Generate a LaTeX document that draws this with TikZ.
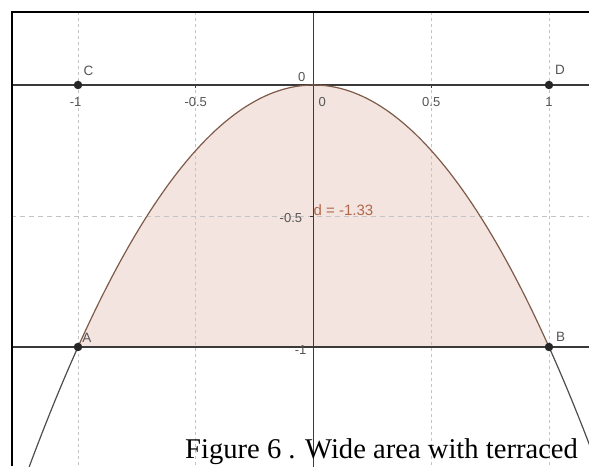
\documentclass[tikz,border=0pt]{standalone}
\usepackage{fontspec}
\setmainfont{Liberation Serif}
\newfontfamily\gsans{Liberation Sans}
\definecolor{axisgray}{HTML}{3A3A3A}
\definecolor{gridgray}{HTML}{C4C4C4}
\definecolor{fillpink}{HTML}{F4E4E0}
\definecolor{curvebrown}{HTML}{7E5A48}
\definecolor{labgray}{HTML}{555555}
\definecolor{dlab}{HTML}{B0684A}
\tikzset{
  gridline/.style={gridgray, line width=0.9pt, dash pattern=on 3pt off 3pt},
  axisline/.style={axisgray, line width=1.2pt},
  ticklab/.style={font=\gsans\fontsize{13}{14}\selectfont, text=labgray, inner sep=0pt},
  ptlab/.style={font=\gsans\fontsize{13.5}{14}\selectfont, text=labgray, inner sep=0pt},
  ptdot/.style={circle, fill=black!85, inner sep=0pt, minimum size=8.5pt},
  framebox/.style={black, line width=2pt},
}
\begin{document}
\begin{tikzpicture}
\useasboundingbox (0,0) rectangle (589pt,466pt);
\fill[white] (0,0) rectangle (589pt,466pt);
\begin{scope}
\clip (12pt,0) rectangle (589pt,454pt);
\begin{scope}[shift={(313.5pt,381pt)}, x=235.5pt, y=262pt]
  % shaded region
  \fill[fillpink] (-1,-1) -- plot[domain=-1:1, samples=80] (\x,{-\x*\x}) -- (1,-1) -- cycle;
  % grid
  \foreach \gx in {-1,-0.5,0.5,1} \draw[gridline] (\gx,0.3) -- (\gx,-1.5);
  \draw[gridline, dash pattern=on 5pt off 4pt] (-1.4,-0.5) -- (1.2,-0.5);
  % axes and line AB
  \draw[axisline] (-1.4,0) -- (1.2,0);
  \draw[axisline] (-1.4,-1) -- (1.2,-1);
  \draw[axisline, line width=1pt] (0,0.3) -- (0,-1.5);
  % ticks
  \foreach \gx in {-1,-0.5,0.5,1} \draw[axisline, line width=0.8pt] (\gx,0) -- (\gx,-0.012);
  \draw[axisline, line width=0.8pt] (0,-0.5) -- (-0.017,-0.5);
  \draw[axisline, line width=0.8pt] (0,-1) -- (-0.017,-1);
  % parabola
  \draw[axisgray!90, line width=1.2pt] plot[domain=-1.25:-1, samples=20] (\x,{-\x*\x});
  \draw[axisgray!90, line width=1.2pt] plot[domain=1:1.25, samples=20] (\x,{-\x*\x});
  \draw[curvebrown, line width=1.2pt] plot[domain=-1:1, samples=100] (\x,{-\x*\x});
  % points
  \node[ptdot] (C) at (-1,0) {};
  \node[ptdot] (D) at (1,0) {};
  \node[ptdot] (A) at (-1,-1) {};
  \node[ptdot] (B) at (1,-1) {};
  \node[ptlab] (Clab) at (-0.955,0.055) {C};
  \node[ptlab] (Dlab) at (1.047,0.058) {D};
  \node[ptlab] (Alab) at (-0.962,0.036-1) {A};
  \node[ptlab] (Blab) at (1.049,0.038-1) {B};
  % tick labels
  \node[ticklab] (xm1) at (-1.01,-0.066) {-1};
  \node[ticklab] (xm05) at (-0.5,-0.066) {-0.5};
  \node[ticklab] (x0) at (0.037,-0.066) {0};
  \node[ticklab] (x05) at (0.5,-0.066) {0.5};
  \node[ticklab] (x1) at (1,-0.066) {1};
  \node[ticklab] (y0) at (-0.05,0.032) {0};
  \node[ticklab] (ym05) at (-0.096,-0.508) {-0.5};
  \node[ticklab] (ym1) at (-0.055,-1.01) {-1};
  \node[ticklab, text=dlab, anchor=west, font=\gsans\fontsize{15}{16}\selectfont] (dlabel) at (0.0,-0.479) {d = -1.33};
\end{scope}
\end{scope}
% frame
\draw[framebox] (12pt,0) -- (12pt,454pt) -- (589pt,454pt);
% caption
\node[anchor=base west, inner sep=0pt, font=\fontsize{28.6}{32}\selectfont] (cap) at (185pt,8pt) {Figure 6 . Wide area with terraced};
\end{tikzpicture}
\end{document}
